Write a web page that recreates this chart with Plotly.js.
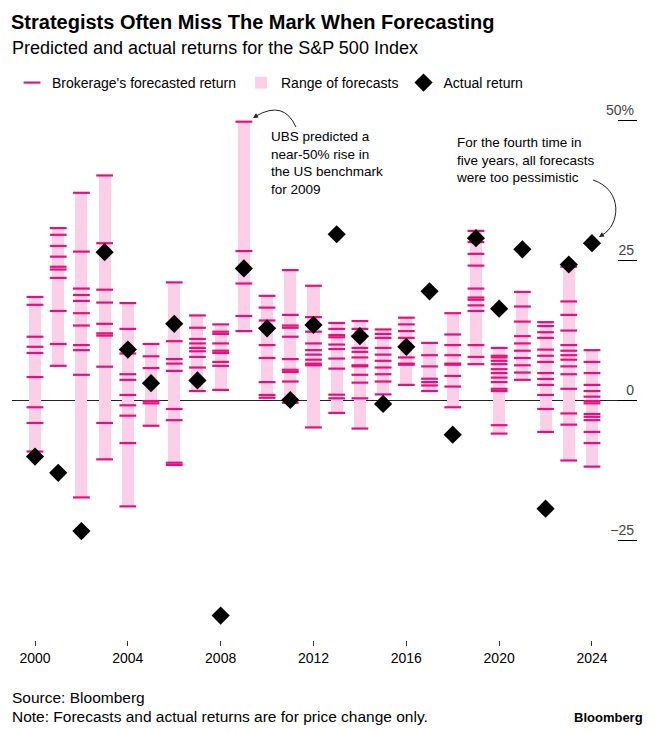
<!DOCTYPE html>
<html>
<head>
<meta charset="utf-8">
<script src="https://cdn.plot.ly/plotly-3.0.1.min.js"></script>
<style>html,body{margin:0;padding:0;background:#fff;}#chart{width:655px;height:733px;}</style>
</head>
<body>
<div id="chart"></div>
<script>
// ---- Data ----
const years = [2000,2001,2002,2003,2004,2005,2006,2007,2008,2009,2010,2011,2012,2013,2014,2015,2016,2017,2018,2019,2020,2021,2022,2023,2024];

const actualReturn = [-10.1,-13.0,-23.4,26.4,9.0,3.0,13.6,3.5,-38.5,23.5,12.8,0.0,13.4,29.6,11.4,-0.7,9.5,19.4,-6.2,28.9,16.3,26.9,-19.4,24.2,28.0];

const forecasts = [
  [18.4,17.0,11.3,9.5,8.4,4.1,-1.3,-4.1,-9.2],
  [30.7,29.5,27.5,25.6,23.8,23.3,21.8,15.9,10.0,6.1],
  [37.0,26.5,19.9,18.75,17.7,15.5,13.3,9.8,8.9,4.5,-17.4],
  [40.1,28.0,19.7,17.4,13.6,11.9,11.5,5.95,-4.1,-10.6],
  [17.3,12.7,8.3,4.6,3.6,0.9,-0.95,-2.8,-7.7,-19.0],
  [10.0,7.8,5.7,-0.2,-0.6,-4.6],
  [21.0,10.5,7.3,6.5,5.2,-1.6,-3.6,-11.2,-11.6],
  [15.1,12.9,10.9,10.1,9.3,8.7,7.7,5.8,1.6],
  [13.5,12.2,11.8,10.1,8.8,8.4,6.8,6.1,1.8],
  [49.7,26.6,20.8,15.0,12.3],
  [18.6,16.5,14.2,9.8,7.5,3.2,0.9,0.4],
  [23.2,15.2,13.3,12.9,11.3,7.3,5.4,5.0,3.3,-0.5],
  [20.4,14.8,12.2,10.1,8.9,8.1,7.2,6.5,6.2,-4.9],
  [13.75,12.7,11.6,11.2,9.9,9.1,7.4,5.6,0.95,0.3,-2.3],
  [14.1,12.7,11.4,9.3,8.6,7.6,6.2,6.0,4.5,3.1,0.3,-5.1],
  [12.6,11.8,11.1,9.3,8.1,7.0,5.8,4.6,3.3,1.0],
  [14.7,13.5,12.3,11.1,7.6,6.5,6.3,2.7],
  [10.2,8.0,6.0,3.8,3.2,2.6,1.6],
  [15.5,11.7,9.8,8.0,6.5,6.3,4.3,2.4,-1.3],
  [30.2,28.2,26.1,24.0,19.9,18.3,17.9,16.9,15.9,9.8,7.7,6.4],
  [9.3,7.9,7.6,7.0,6.4,5.5,4.8,4.0,3.2,2.0,1.6,-4.5,-6.0],
  [19.3,16.7,14.0,11.4,10.1,8.8,7.5,6.2,4.9,3.6],
  [13.9,13.2,12.1,11.1,9.0,7.9,6.8,4.8,3.75,2.7,0.9,-1.6,-5.7],
  [23.8,17.6,15.2,12.4,9.8,8.8,8.0,7.2,6.0,4.6,2.0,-2.4,-4.4,-10.8],
  [8.9,6.8,4.8,2.7,1.6,0.6,-0.2,-0.6,-2.5,-3.0,-3.6,-5.7,-7.7,-11.9]
];

const xTickVals = [2000,2004,2008,2012,2016,2020,2024];
const yTickVals = [-25,0,25,50];
const yTickText = ['\u221225','0','25','50%'];

// ---- Derived for plotting ----
const rangeLow = forecasts.map(f => Math.min(...f));
const rangeHigh = forecasts.map(f => Math.max(...f));
const dashX = [], dashY = [];
forecasts.forEach((f, i) => f.forEach(v => { dashX.push(years[i]); dashY.push(v); }));

const PINK = '#fbcfe8';
const MAGENTA = '#e2117e';
const FONT = 'Liberation Sans, Arial, sans-serif';

const barTrace = {
  type: 'bar', name: 'Range of forecasts',
  x: years, base: rangeLow, y: rangeHigh.map((h, i) => h - rangeLow[i]),
  width: 0.52, marker: {color: PINK, line: {width: 0}},
  legendrank: 2, hoverinfo: 'skip'
};
const dashTrace = {
  type: 'scatter', mode: 'markers', name: "Brokerage's forecasted return",
  x: dashX, y: dashY,
  marker: {symbol: 'line-ew', size: 12, line: {width: 2.2, color: MAGENTA}, color: MAGENTA},
  legendrank: 1, hoverinfo: 'skip'
};
const actualTrace = {
  type: 'scatter', mode: 'markers', name: 'Actual return',
  x: years, y: actualReturn,
  marker: {symbol: 'diamond', size: 14, color: '#000'},
  legendrank: 3, hoverinfo: 'skip'
};
const data = [barTrace, dashTrace, actualTrace];

function X(px){ return 2000 + (px - 35) / 23.21; }
function Y(py){ return (400 - py) / 5.6; }

const layout = {
  width: 655, height: 733,
  margin: {l: 12, r: 18, t: 100, b: 93},
  paper_bgcolor: '#fff', plot_bgcolor: '#fff',
  font: {family: FONT, size: 14, color: '#000'},
  showlegend: true,
  legend: {orientation: 'h', x: 0, xanchor: 'left', y: 1.0315, yanchor: 'middle',
           font: {size: 14, family: FONT}, itemwidth: 30},
  bargap: 0,
  title: {text: '<b>Strategists Often Miss The Mark When Forecasting</b>',
          x: 11/655, xref: 'container', xanchor: 'left', y: 1 - 22/733, yref: 'container', yanchor: 'middle',
          font: {size: 20, family: FONT, color: '#000'}},
  xaxis: {range: [1999.009, 2025.94], tickvals: xTickVals, ticks: 'outside', ticklen: 5,
          tickcolor: '#333', tickwidth: 1, showgrid: false, zeroline: false, showline: false,
          tickfont: {size: 14, family: FONT}, fixedrange: true, automargin: false},
  yaxis: {range: [-42.857, 53.571], side: 'right', tickvals: yTickVals, ticktext: yTickText,
          ticklabelposition: 'inside top', ticks: 'inside', ticklen: 19, tickcolor: '#000', tickwidth: 1,
          showgrid: false, zeroline: true, zerolinecolor: '#222', zerolinewidth: 1, showline: false,
          tickfont: {size: 14, family: FONT}, fixedrange: true, automargin: false},
  shapes: [
    {type: 'path', xref: 'x', yref: 'y',
     path: `M ${X(296)},${Y(127)} Q ${X(284)},${Y(100)} ${X(256)},${Y(116)}`,
     line: {color: '#222', width: 1}},
    {type: 'path', xref: 'x', yref: 'y',
     path: `M ${X(593)},${Y(180)} C ${X(624)},${Y(190)} ${X(620)},${Y(226)} ${X(602)},${Y(235)}`,
     line: {color: '#222', width: 1}}
  ],
  annotations: [
    {text: 'Predicted and actual returns for the S&P 500 Index', xref: 'paper', yref: 'paper',
     x: -0.003, y: (640-48)/540, xanchor: 'left', yanchor: 'middle', showarrow: false,
     font: {size: 18, family: FONT, color: '#000'}},
    {text: 'UBS predicted a<br>near-50% rise in<br>the US benchmark<br>for 2009', xref: 'x', yref: 'y',
     x: X(269), y: Y(127), xanchor: 'left', yanchor: 'top', align: 'left', showarrow: false,
     font: {size: 13.5, family: FONT, color: '#000'}},
    {text: 'For the fourth time in<br>five years, all forecasts<br>were too pessimistic', xref: 'x', yref: 'y',
     x: X(454), y: Y(133), xanchor: 'left', yanchor: 'top', align: 'left', showarrow: false,
     font: {size: 13.5, family: FONT, color: '#000'}},
    {text: '', xref: 'x', yref: 'y', x: X(253), y: Y(118), ax: 5, ay: -3,
     showarrow: true, arrowhead: 2, arrowsize: 1, arrowwidth: 1, arrowcolor: '#222'},
    {text: '', xref: 'x', yref: 'y', x: X(599), y: Y(237), ax: 5, ay: -3,
     showarrow: true, arrowhead: 2, arrowsize: 1, arrowwidth: 1, arrowcolor: '#222'},
    {text: 'Source: Bloomberg', xref: 'paper', yref: 'paper', x: -0.003, y: (640-697)/540,
     xanchor: 'left', yanchor: 'middle', showarrow: false, font: {size: 15.5, family: FONT, color: '#000'}},
    {text: 'Note: Forecasts and actual returns are for price change only.', xref: 'paper', yref: 'paper',
     x: -0.003, y: (640-716)/540, xanchor: 'left', yanchor: 'middle', showarrow: false,
     font: {size: 15.5, family: FONT, color: '#000'}},
    {text: '<b>Bloomberg</b>', xref: 'paper', yref: 'paper', x: (645-12)/625, y: (640-717)/540,
     xanchor: 'right', yanchor: 'middle', showarrow: false, font: {size: 13, family: FONT, color: '#000'}}
  ]
};

Plotly.newPlot('chart', data, layout, {displayModeBar: false, staticPlot: true});
</script>
</body>
</html>
